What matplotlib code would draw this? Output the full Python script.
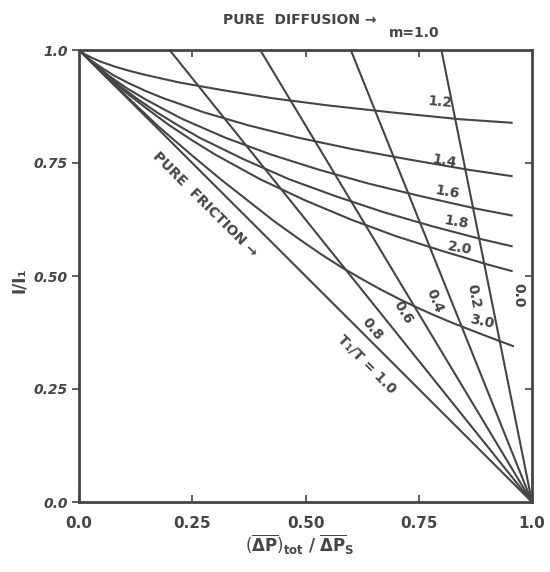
import numpy as np
import matplotlib.pyplot as plt

# lineas rectas T1/T: van de (x_arriba, 1) hasta (1, 0)
t_ratio = [1.0, 0.8, 0.6, 0.4, 0.2]
t_top_x = [0.0, 0.2, 0.4, 0.6, 0.8]

# curvas m
m_labels = ["1.2", "1.4", "1.6", "1.8", "2.0", "3.0"]
m12_x = [0.0, 0.012, 0.030, 0.051, 0.077, 0.107, 0.142, 0.222, 0.318, 0.429, 0.553, 0.690, 0.839, 0.955]
m12_y = [1.0, 0.991, 0.982, 0.973, 0.964, 0.955, 0.946, 0.928, 0.911, 0.893, 0.877, 0.862, 0.847, 0.839]
m14_x = [0.0, 0.022, 0.048, 0.078, 0.111, 0.148, 0.187, 0.276, 0.375, 0.484, 0.602, 0.727, 0.860, 0.955]
m14_y = [1.0, 0.980, 0.962, 0.943, 0.926, 0.909, 0.893, 0.862, 0.833, 0.806, 0.781, 0.758, 0.735, 0.721]
m16_x = [0.0, 0.032, 0.066, 0.103, 0.143, 0.185, 0.229, 0.323, 0.423, 0.530, 0.641, 0.757, 0.877, 0.955]
m16_y = [1.0, 0.971, 0.943, 0.917, 0.893, 0.870, 0.847, 0.806, 0.769, 0.735, 0.704, 0.676, 0.649, 0.634]
m18_x = [0.0, 0.041, 0.083, 0.127, 0.172, 0.219, 0.266, 0.364, 0.464, 0.568, 0.673, 0.780, 0.890, 0.955]
m18_y = [1.0, 0.962, 0.926, 0.893, 0.862, 0.833, 0.806, 0.758, 0.714, 0.676, 0.641, 0.610, 0.581, 0.566]
m20_x = [0.0, 0.05, 0.10, 0.15, 0.20, 0.25, 0.30, 0.40, 0.50, 0.60, 0.70, 0.80, 0.90, 0.955]
m20_y = [1.0, 0.952, 0.909, 0.870, 0.833, 0.800, 0.769, 0.714, 0.667, 0.625, 0.588, 0.556, 0.526, 0.511]
m30_x = [0.0, 0.048, 0.093, 0.175, 0.248, 0.314, 0.375, 0.431, 0.484, 0.533, 0.580, 0.625,
         0.668, 0.709, 0.749, 0.787, 0.825, 0.861, 0.897, 0.958]
m30_y = [1.0, 0.952, 0.909, 0.831, 0.768, 0.713, 0.665, 0.621, 0.583, 0.549, 0.519, 0.493,
         0.469, 0.448, 0.429, 0.412, 0.396, 0.382, 0.368, 0.345]

ticks = [0.0, 0.25, 0.50, 0.75, 1.0]
tick_labels = ["0.0", "0.25", "0.50", "0.75", "1.0"]

col = "#454545"
plt.rcParams['font.family'] = ['DejaVu Sans']

fig = plt.figure(figsize=(5.5, 5.72), dpi=100)
ax = fig.add_axes([79 / 550, 1 - 502 / 572, 453 / 550, 452 / 572])

for x0 in t_top_x:
    ax.plot([x0, 1.0], [1.0, 0.0], color=col, lw=1.5)

curvas_x = [m12_x, m14_x, m16_x, m18_x, m20_x, m30_x]
curvas_y = [m12_y, m14_y, m16_y, m18_y, m20_y, m30_y]
for cx, cy in zip(curvas_x, curvas_y):
    ax.plot(cx, cy, color=col, lw=1.5, solid_joinstyle='round')

ax.set_xlim(0, 1)
ax.set_ylim(0, 1)
for s in ax.spines.values():
    s.set_linewidth(2.0)
    s.set_color(col)

ax.set_xticks(ticks)
ax.set_xticklabels(tick_labels, fontsize=11, fontweight='bold', color=col)
ax.set_yticks(ticks)
ax.set_yticklabels(tick_labels, fontsize=10, fontweight='bold', color=col, fontstyle='italic')
ax.tick_params(axis='x', direction='in', length=5, width=1.2, color=col, pad=10)
ax.tick_params(axis='y', direction='out', length=5, width=1.2, color=col, pad=3)

sec_r = ax.secondary_yaxis('right')
sec_r.set_yticks(ticks[1:4])
sec_r.tick_params(direction='in', length=5, width=1.2, color=col, labelright=False)
sec_r.spines['right'].set_visible(False)
sec_t = ax.secondary_xaxis('top')
sec_t.set_xticks(ticks[1:4])
sec_t.tick_params(direction='in', length=5, width=1.2, color=col, labeltop=False)
sec_t.spines['top'].set_visible(False)

txt = dict(color=col, fontweight='bold', ha='center', va='center')

# etiquetas de T1/T
ax.text(0.636, 0.305, "T\u2081/T = 1.0", fontsize=10, rotation=-45, **txt)
ax.text(0.647, 0.383, "0.8", fontsize=10, rotation=-51, **txt)
ax.text(0.715, 0.420, "0.6", fontsize=10, rotation=-59, **txt)
ax.text(0.786, 0.445, "0.4", fontsize=10, rotation=-68, **txt)
ax.text(0.872, 0.454, "0.2", fontsize=10, rotation=-79, **txt)
ax.text(0.969, 0.458, "0.0", fontsize=10, rotation=-90, **txt)

# etiquetas de m
m_pos = [(0.797, 0.885), (0.806, 0.754), (0.812, 0.686), (0.834, 0.619), (0.841, 0.562), (0.890, 0.398)]
m_rot = [-5, -10, -10, -10, -10, -12]
for lab, (px, py), r in zip(m_labels, m_pos, m_rot):
    ax.text(px, py, lab, fontsize=10, rotation=r, **txt)

ax.text(0.740, 1.038, "m=1.0", fontsize=10, clip_on=False, **txt)
ax.text(0.488, 1.066, "PURE  DIFFUSION \u2192", fontsize=10, clip_on=False, **txt)
ax.text(0.278, 0.659, "PURE  FRICTION \u2192", fontsize=10, rotation=-45, **txt)

fig.text(0.545, 0.047,
         r"$(\overline{\mathbf{\Delta P}})_{\mathbf{tot}}\ \mathbf{/}\ \overline{\mathbf{\Delta P}}_{\mathbf{S}}$",
         fontsize=12, color=col, ha='center', va='center')
fig.text(0.035, 0.51, "I/I\u2081", fontsize=12, color=col, fontweight='bold',
         rotation=90, ha='center', va='center')

fig.savefig("out.png", dpi=100, facecolor='white')
